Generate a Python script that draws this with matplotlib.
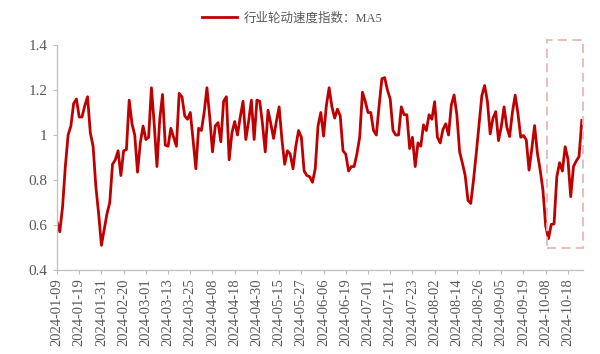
import numpy as np
import matplotlib.pyplot as plt
from matplotlib.patches import Rectangle

# MA5 of the sector-rotation speed index, one value per A-share trading day
# (2024-01-09 .. 2024-10-25)
ma5_values = [
    0.615, 0.57, 0.68, 0.86, 1.0, 1.04, 1.14, 1.16, 1.08, 1.08,
    1.13, 1.17, 1.01, 0.95, 0.77, 0.65, 0.51, 0.58, 0.65, 0.70,
    0.87, 0.89, 0.93, 0.82, 0.93, 0.935, 1.155, 1.05, 1.0, 0.835,
    0.965, 1.04, 0.98, 0.99, 1.21, 1.05, 0.86, 1.07, 1.18, 0.955,
    0.95, 1.03, 0.99, 0.95, 1.185, 1.17, 1.085, 1.07, 1.10, 0.98,
    0.85, 1.03, 1.02, 1.10, 1.21, 1.08, 0.925, 1.04, 1.055, 0.97,
    1.15, 1.17, 0.89, 1.01, 1.06, 1.0, 1.08, 1.15, 0.98, 1.06,
    1.155, 0.98, 1.155, 1.15, 1.05, 0.925, 1.11, 1.05, 0.985, 1.06,
    1.125, 0.98, 0.87, 0.93, 0.915, 0.85, 0.95, 1.02, 0.99, 0.84,
    0.82, 0.815, 0.79, 0.85, 1.04, 1.10, 0.995, 1.13, 1.21, 1.125,
    1.075, 1.115, 1.085, 0.93, 0.915, 0.84, 0.86, 0.86, 0.915, 0.99,
    1.19, 1.15, 1.10, 1.10, 1.02, 1.0, 1.13, 1.25, 1.255, 1.20,
    1.16, 1.02, 1.0, 1.0, 1.125, 1.09, 1.09, 0.94, 0.99, 0.86,
    0.965, 0.95, 1.045, 1.02, 1.09, 1.07, 1.148, 0.99, 0.965, 1.025,
    1.05, 1.0, 1.133, 1.178, 1.09, 0.925, 0.875, 0.82, 0.71, 0.696,
    0.80, 0.92, 1.05, 1.175, 1.22, 1.15, 1.005, 1.074, 1.104, 0.975,
    1.037, 1.125, 1.035, 0.993, 1.10, 1.177, 1.096, 0.99, 0.998, 0.978,
    0.844, 0.94, 1.042, 0.92, 0.845, 0.755, 0.595, 0.54, 0.603, 0.605,
    0.815, 0.877, 0.84, 0.948, 0.893, 0.726, 0.86, 0.885, 0.904, 1.065,
]

# labels shown on every 8th trading day
tick_labels = [
    "2024-01-09", "2024-01-19", "2024-01-31", "2024-02-20", "2024-03-01",
    "2024-03-13", "2024-03-25", "2024-04-08", "2024-04-18", "2024-04-30",
    "2024-05-15", "2024-05-27", "2024-06-06", "2024-06-19", "2024-07-01",
    "2024-07-11", "2024-07-23", "2024-08-02", "2024-08-14", "2024-08-26",
    "2024-09-05", "2024-09-19", "2024-10-08", "2024-10-18",
]
tick_step = 8
y_ticks = [0.4, 0.6, 0.8, 1.0, 1.2, 1.4]
y_tick_labels = ["0.4", "0.6", "0.8", "1", "1.2", "1.4"]

series_name = "行业轮动速度指数：MA5"
highlight_start = 176.5   # trading-day index where the highlighted box starts
highlight_ylim = (0.5, 1.42)

line_color = "#C00000"
axis_color = "#BFBFBF"
text_color = "#595959"

x = np.arange(len(ma5_values))

fig = plt.figure(figsize=(6, 3.54), dpi=100)
ax = fig.add_axes([0.095, 0.237, 0.877, 0.636])

ax.plot(x, ma5_values, color=line_color, linewidth=2.0, label=series_name)

rect = Rectangle((highlight_start, highlight_ylim[0]),
                 len(ma5_values) - 0.5 - highlight_start,
                 highlight_ylim[1] - highlight_ylim[0],
                 fill=False, edgecolor="#E6B8B7", linestyle=(0, (5, 3)),
                 linewidth=1.3, clip_on=False, zorder=3)
ax.add_patch(rect)

ax.set_xlim(0, len(ma5_values) - 0.5)
ax.set_ylim(0.4, 1.4)

tick_pos = np.arange(0, len(ma5_values), tick_step)[:len(tick_labels)]
ax.set_xticks(tick_pos)
ax.set_xticklabels(tick_labels, rotation=90, fontsize=10.5,
                   family="Liberation Serif", color=text_color)
ax.set_yticks(y_ticks)
ax.set_yticklabels(y_tick_labels, fontsize=11, family="Liberation Serif",
                   color=text_color)

for side in ["top", "right"]:
    ax.spines[side].set_visible(False)
for side in ["left", "bottom"]:
    ax.spines[side].set_color(axis_color)
    ax.spines[side].set_linewidth(0.9)
ax.tick_params(axis="x", direction="out", length=3, color=axis_color, pad=3)
ax.tick_params(axis="y", direction="out", length=3, color=axis_color, pad=4)

leg = ax.legend(loc="center", bbox_to_anchor=(0.487, 0.948),
                bbox_transform=fig.transFigure, frameon=False,
                handlelength=2.8, handletextpad=0.5,
                prop={"family": ["Liberation Serif", "Noto Sans CJK SC"], "size": 9})
for t in leg.get_texts():
    t.set_color(text_color)

fig.savefig("out.png", dpi=100)
